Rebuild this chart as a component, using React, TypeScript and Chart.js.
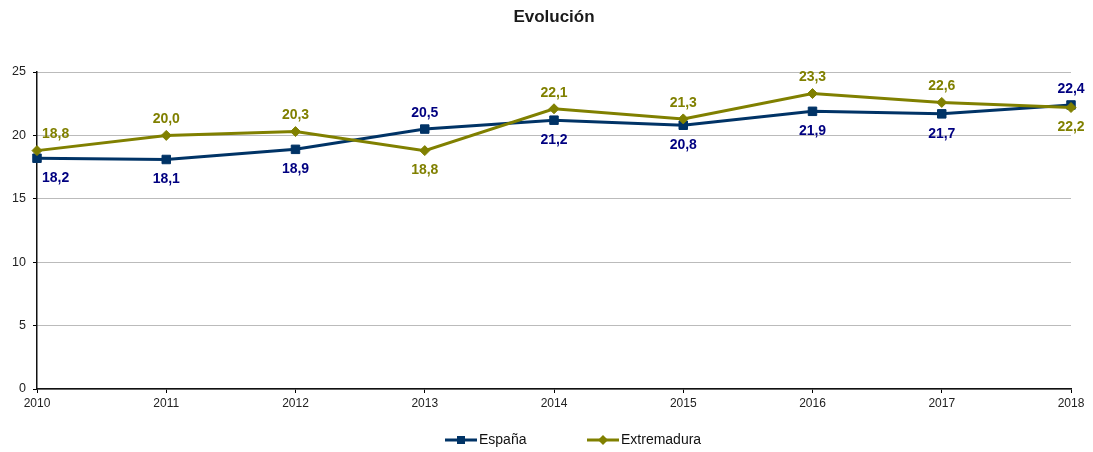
import React, { useEffect, useRef } from "react";
import { Chart, registerables } from "chart.js";

Chart.register(...registerables);

const years = ["2010", "2011", "2012", "2013", "2014", "2015", "2016", "2017", "2018"];
const espana = [18.2, 18.1, 18.9, 20.5, 21.2, 20.8, 21.9, 21.7, 22.4];
const extremadura = [18.8, 20.0, 20.3, 18.8, 22.1, 21.3, 23.3, 22.6, 22.2];
const espanaLabelPos = ["below", "below", "below", "above", "below", "below", "below", "below", "above"];
const extremaduraLabelPos = ["above", "above", "above", "below", "above", "above", "above", "above", "below"];
const yTicks = [0, 5, 10, 15, 20, 25];
const titleText = "Evolución";

const FONT = "'Liberation Sans', Arial, sans-serif";
const ESP_LINE = "#003366";
const ESP_LABEL = "#000080";
const EXT_LINE = "#808000";
const EXT_LABEL = "#808000";

function fmt(v: number) {
  return v.toFixed(1).replace(".", ",");
}

const customPlugin = {
  id: "custom",
  afterDatasetsDraw(chart: any) {
    const ctx = chart.ctx;
    const area = chart.chartArea;
    ctx.save();
    const specs = [
      { idx: 0, pos: espanaLabelPos, color: ESP_LABEL, data: espana },
      { idx: 1, pos: extremaduraLabelPos, color: EXT_LABEL, data: extremadura },
    ];
    ctx.font = `bold 14px ${FONT}`;
    ctx.textBaseline = "middle";
    ctx.textAlign = "center";
    for (const s of specs) {
      const meta = chart.getDatasetMeta(s.idx);
      meta.data.forEach((pt: any, i: number) => {
        const txt = fmt(s.data[i]);
        const w = ctx.measureText(txt).width;
        let x = pt.x;
        if (x - w / 2 < area.left + 5) x = area.left + 5 + w / 2;
        const y = s.pos[i] === "above" ? pt.y - 16 : pt.y + 20;
        ctx.fillStyle = s.color;
        ctx.fillText(txt, x, y);
      });
    }
    ctx.restore();
  },
  afterDraw(chart: any) {
    const ctx = chart.ctx;
    const area = chart.chartArea;
    ctx.save();
    ctx.font = `bold 17px ${FONT}`;
    ctx.fillStyle = "#1a1a1a";
    ctx.textAlign = "center";
    ctx.textBaseline = "middle";
    ctx.fillText(titleText, (area.left + area.right) / 2, 17.5);
    const items = chart.data.datasets.map((d: any) => ({
      text: d.label,
      color: d.borderColor,
      style: d.pointStyle,
    }));
    ctx.font = `14px ${FONT}`;
    let x = 445;
    const y = 440;
    items.forEach((it: any) => {
      ctx.strokeStyle = it.color;
      ctx.fillStyle = it.color;
      ctx.lineWidth = 3;
      ctx.beginPath();
      ctx.moveTo(x, y);
      ctx.lineTo(x + 32, y);
      ctx.stroke();
      const cx = x + 16;
      if (it.style === "rect") {
        ctx.fillRect(cx - 4, y - 4, 8, 8);
      } else {
        ctx.beginPath();
        ctx.moveTo(cx, y - 5);
        ctx.lineTo(cx + 5, y);
        ctx.lineTo(cx, y + 5);
        ctx.lineTo(cx - 5, y);
        ctx.closePath();
        ctx.fill();
      }
      ctx.fillStyle = "#111";
      ctx.textAlign = "left";
      ctx.textBaseline = "middle";
      ctx.fillText(it.text, x + 34, y);
      x += 142;
    });
    ctx.restore();
  },
};

export default function App() {
  const ref = useRef<HTMLCanvasElement | null>(null);
  useEffect(() => {
    document.body.style.margin = "0";
    if (!ref.current) return;
    const chart = new Chart(ref.current, {
      type: "line",
      data: {
        labels: years,
        datasets: [
          {
            label: "España",
            data: espana,
            borderColor: ESP_LINE,
            backgroundColor: ESP_LINE,
            borderWidth: 3,
            pointStyle: "rect",
            pointRadius: 6,
            pointBorderWidth: 1,
            order: 1,
            tension: 0,
          },
          {
            label: "Extremadura",
            data: extremadura,
            borderColor: EXT_LINE,
            backgroundColor: EXT_LINE,
            borderWidth: 3,
            pointStyle: "rectRot",
            pointRadius: 5,
            pointBorderWidth: 1,
            order: 0,
            tension: 0,
          },
        ],
      },
      options: {
        animation: false,
        responsive: false,
        layout: { padding: { top: 72, right: 22, bottom: 43, left: 0 } },
        plugins: {
          legend: { display: false },
          title: { display: false },
          tooltip: { enabled: false },
        },
        scales: {
          x: {
            offset: false,
            grid: {
              drawOnChartArea: false,
              drawTicks: true,
              tickLength: 4,
              tickColor: "#000",
              color: "#000",
            },
            border: { color: "#111", width: 1.5 },
            ticks: {
              color: "#222",
              font: { family: FONT, size: 12 },
              padding: 3,
              maxRotation: 0,
              autoSkip: false,
            },
            afterFit(scale: any) {
              scale.height = 20;
            },
          },
          y: {
            min: 0,
            max: 25,
            afterBuildTicks(scale: any) {
              scale.ticks = yTicks.map((v) => ({ value: v }));
            },
            grid: {
              color: "#777",
              drawTicks: true,
              tickLength: 4,
              tickColor: "#000",
              tickBorderDash: [],
            },
            border: { color: "#111", width: 1.5, dash: [1, 1] },
            ticks: {
              color: "#222",
              font: { family: FONT, size: 12.5 },
              padding: 7,
            },
            afterFit(scale: any) {
              scale.width = 37;
            },
          },
        },
      },
      plugins: [customPlugin],
    } as any);
    return () => chart.destroy();
  }, []);
  return (
    <div style={{ width: 1093, height: 452 }}>
      <canvas ref={ref} width={1093} height={452} style={{ display: "block" }} />
    </div>
  );
}
